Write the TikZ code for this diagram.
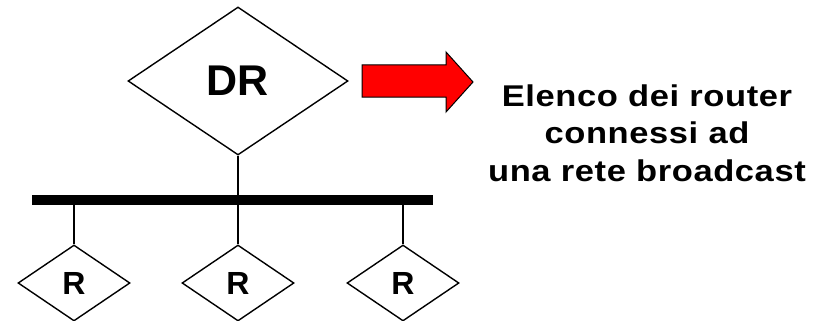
\documentclass[tikz,border=0pt]{standalone}
\usepackage{fontspec}
\setmainfont{Liberation Sans}
\newfontfamily\lblfont[FakeStretch=1.15,LetterSpace=2]{Liberation Sans}
\usetikzlibrary{shapes.geometric}
\begin{document}
\begin{tikzpicture}[x=1pt,y=-1pt,
  bigdia/.style={draw,shape=diamond,inner sep=0pt,line width=1.4pt,minimum width=220pt,minimum height=148pt,font=\fontsize{43}{43}\selectfont\bfseries},
  smalldia/.style={draw,shape=diamond,inner sep=0pt,line width=1.4pt,minimum width=112pt,minimum height=76pt,font=\fontsize{32}{32}\selectfont\bfseries},
  link/.style={line width=1.4pt},
  label/.style={align=center,font=\lblfont\fontsize{30}{37.5}\selectfont\bfseries}]
\useasboundingbox (0,0) rectangle (816,321);
\node[bigdia] (DR) at (238,81) {DR};
\node[fill=black,inner sep=0pt,minimum width=401pt,minimum height=9.5pt] (bus) at (232.5,200) {};
\node[smalldia] (R1) at (74,283) {R};
\node[smalldia] (R2) at (238,283) {R};
\node[smalldia] (R3) at (403,283) {R};
\draw[link] (DR.south) -- (DR.south |- bus.north);
\foreach \r in {R1,R2,R3} \draw[link] (\r.north) -- (\r.north |- bus.south);
\draw[line width=1pt,fill=red,line join=miter] (362,65) -- (446,65) -- (446,52) -- (473,82) -- (446,112) -- (446,97) -- (362,97) -- cycle;
\node[label] (txt) at (647,133) {Elenco dei router\\connessi ad\\una rete broadcast};
\end{tikzpicture}
\end{document}
